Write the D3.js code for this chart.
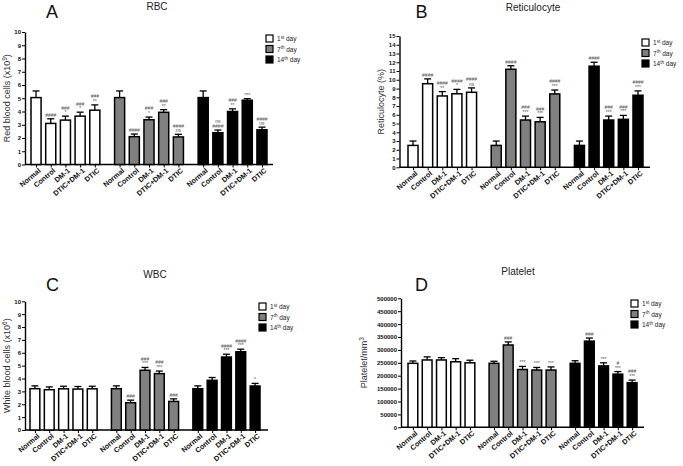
<!DOCTYPE html>
<html><head><meta charset="utf-8">
<script src="https://cdn.jsdelivr.net/npm/d3@7"></script>
<style>
body{margin:0;background:#fff}
svg{display:block}
text{font-family:"Liberation Sans",Arial,Helvetica,sans-serif}
</style>
</head><body>
<svg id="c" width="683" height="466"></svg>
<script>
// ---------------- DATA ----------------
const categories = ["Normal", "Control", "DM-1", "DTIC+DM-1", "DTIC"];
const days = ["1st", "7th", "14th"];
const dayNumber = ["1", "7", "14"];
const daySuffix = ["st", "th", "th"];

// A: RBC (x10^9)
const rbcValues = [[5.05, 3.1, 3.35, 3.65, 4.1], [5.05, 2.1, 3.38, 3.94, 2.08], [5.05, 2.4, 4.0, 4.85, 2.62]];
const rbcErrors = [[0.5, 0.35, 0.3, 0.3, 0.4], [0.5, 0.2, 0.2, 0.2, 0.2], [0.5, 0.2, 0.2, 0.12, 0.2]];
const rbcMarks = [["", "####", "###|*", "###|*", "###|**"], ["", "####", "###|*", "###|**", "####|ns"], ["", "ns|####", "###|**", "***", "####|ns"]];
const rbcTicks = d3.range(0, 11, 1);

// B: Reticulocyte (%)
const retValues = [[2.5, 9.55, 8.15, 8.4, 8.57], [2.5, 11.2, 5.4, 5.2, 8.38], [2.5, 11.55, 5.4, 5.48, 8.23]];
const retErrors = [[0.5, 0.55, 0.5, 0.5, 0.5], [0.5, 0.4, 0.45, 0.5, 0.45], [0.5, 0.45, 0.45, 0.45, 0.5]];
const retMarks = [["", "####", "####|**", "####|*", "####|ns"], ["", "####", "###|***", "###|***", "####|***"], ["", "####", "###|***", "###|***", "####|***"]];
const retTicks = d3.range(0, 16, 1);

// C: WBC (x10^6)
const wbcValues = [[3.21, 3.13, 3.2, 3.18, 3.2], [3.21, 2.12, 4.64, 4.38, 2.22], [3.21, 3.86, 5.67, 6.08, 3.42]];
const wbcErrors = [[0.22, 0.22, 0.2, 0.2, 0.2], [0.22, 0.2, 0.22, 0.2, 0.2], [0.22, 0.22, 0.22, 0.2, 0.2]];
const wbcMarks = [["", "", "", "", ""], ["", "###", "###|***", "###|***", "###"], ["", "", "####|***", "####|***", "*"]];
const wbcTicks = d3.range(0, 11, 1);

// D: Platelet/mm3
const pltValues = [[248000, 261000, 261000, 254000, 250000], [248000, 319000, 224000, 222000, 222000], [248000, 334000, 238000, 206000, 173000]];
const pltErrors = [[9000, 12000, 9000, 12000, 10000], [8000, 12000, 12000, 10000, 12000], [10000, 12000, 12000, 10000, 10000]];
const pltMarks = [["", "", "", "", ""], ["", "###", "***", "***", "***"], ["", "###", "***", "#|***", "###|***"]];
const pltTicks = d3.range(0, 500001, 50000);

// ---------------- LAYOUT ----------------
const dayColors = ["#ffffff", "#808080", "#000000"];
const svg = d3.select("#c");

const panels = [
  {letter: "A", title: "RBC", values: rbcValues, errors: rbcErrors, marks: rbcMarks, ticks: rbcTicks, yMax: 10,
   ylabel: ["Red blood cells (x10", "9", ")"], ylabelX: 10,
   titleX: 157, titleY: 10, letterX: 52, letterY: 18,
   axisX: 25, axisRight: 273, yTop: 32, yBottom: 164.5, barL: 31, barR: 267, legendX: 266, legendY: 35},
  {letter: "B", title: "Reticulocyte", values: retValues, errors: retErrors, marks: retMarks, ticks: retTicks, yMax: 15,
   ylabel: ["Reticulocyte (%)"], ylabelX: 384,
   titleX: 533, titleY: 11, letterX: 421.5, letterY: 18,
   axisX: 399.5, axisRight: 650, yTop: 36, yBottom: 167.3, barL: 408, barR: 643, legendX: 642, legendY: 39},
  {letter: "C", title: "WBC", values: wbcValues, errors: wbcErrors, marks: wbcMarks, ticks: wbcTicks, yMax: 10,
   ylabel: ["White blood cells (x10", "6", ")"], ylabelX: 10,
   titleX: 155, titleY: 278, letterX: 52.5, letterY: 291,
   axisX: 25, axisRight: 268, yTop: 301.3, yBottom: 430, barL: 30, barR: 260, legendX: 259, legendY: 303},
  {letter: "D", title: "Platelet", values: pltValues, errors: pltErrors, marks: pltMarks, ticks: pltTicks, yMax: 500000,
   ylabel: ["Platelet/mm", "3", ""], ylabelX: 367,
   titleX: 518, titleY: 275, letterX: 421.5, letterY: 291,
   axisX: 401, axisRight: 644, yTop: 298.3, yBottom: 427.3, barL: 408, barR: 637, legendX: 631, legendY: 300}
];

function drawPanel(p) {
  const g = svg.append("g");
  const y = d3.scaleLinear().domain([0, p.yMax]).range([p.yBottom, p.yTop]);
  const xOuter = d3.scaleBand().domain(days).range([p.barL, p.barR]).paddingInner(0.176).paddingOuter(0);
  const xInner = d3.scaleBand().domain(categories).range([0, xOuter.bandwidth()]).paddingInner(0.315).paddingOuter(0);
  const bw = xInner.bandwidth();

  // Title and letter
  g.append("text").attr("x", p.titleX).attr("y", p.titleY).attr("text-anchor", "middle")
    .attr("font-size", 10).attr("fill", "#222").text(p.title);
  g.append("text").attr("x", p.letterX).attr("y", p.letterY).attr("text-anchor", "middle")
    .attr("font-size", 18).attr("fill", "#111").text(p.letter);

  // y axis
  const ya = d3.axisLeft(y).tickValues(p.ticks).tickSize(3).tickSizeOuter(0).tickPadding(1).tickFormat(d3.format("d"));
  const yg = g.append("g").attr("transform", `translate(${p.axisX},0)`).call(ya);
  yg.select(".domain").attr("stroke", "#000").attr("stroke-width", 1.4);
  yg.selectAll(".tick line").attr("stroke", "#000").attr("stroke-width", 1);
  yg.selectAll(".tick text").attr("font-size", 6).attr("font-weight", "bold").attr("fill", "#111")
    .attr("font-family", '"Liberation Sans",Arial,sans-serif');

  // y label
  const yl = g.append("text")
    .attr("transform", `translate(${p.ylabelX},${(p.yTop + p.yBottom) / 2}) rotate(-90)`)
    .attr("text-anchor", "middle").attr("font-size", 9).attr("fill", "#333");
  yl.append("tspan").text(p.ylabel[0]);
  if (p.ylabel.length > 1) {
    yl.append("tspan").attr("dy", -3.5).attr("font-size", 6.5).text(p.ylabel[1]);
    yl.append("tspan").attr("dy", 3.5).text(p.ylabel[2]);
  }

  // x axis line
  g.append("line").attr("x1", p.axisX).attr("x2", p.axisRight).attr("y1", p.yBottom).attr("y2", p.yBottom)
    .attr("stroke", "#000").attr("stroke-width", 1.4);

  // x ticks/labels via ordinal scale of bar centers
  const keys = [], centers = [];
  days.forEach(d => categories.forEach(c => { keys.push(d + "|" + c); centers.push(xOuter(d) + xInner(c) + bw / 2); }));
  const xTick = d3.scaleOrdinal().domain(keys).range(centers);
  const xa = d3.axisBottom(xTick).tickSize(3).tickSizeOuter(0).tickFormat(k => k.split("|")[1]);
  const xg = g.append("g").attr("transform", `translate(0,${p.yBottom})`).call(xa);
  xg.select(".domain").remove();
  xg.selectAll(".tick line").attr("stroke", "#000").attr("stroke-width", 1);
  xg.selectAll(".tick text").attr("font-size", 7.2).attr("font-weight", "bold").attr("fill", "#111")
    .attr("font-family", '"Liberation Sans",Arial,sans-serif')
    .attr("text-anchor", "end").attr("x", 0).attr("y", 0).attr("dy", "0.35em")
    .attr("transform", "translate(3,5) rotate(-40)");

  // bars
  days.forEach((d, di) => {
    categories.forEach((c, ci) => {
      const v = p.values[di][ci], e = p.errors[di][ci];
      const x0 = xOuter(d) + xInner(c);
      const cx = x0 + bw / 2;
      // error bar
      g.append("line").attr("x1", cx).attr("x2", cx).attr("y1", y(v)).attr("y2", y(v + e))
        .attr("stroke", "#000").attr("stroke-width", 1.3);
      g.append("line").attr("x1", cx - 3.5).attr("x2", cx + 3.5).attr("y1", y(v + e)).attr("y2", y(v + e))
        .attr("stroke", "#000").attr("stroke-width", 1.3);
      g.append("rect").attr("x", x0).attr("y", y(v)).attr("width", bw).attr("height", y(0) - y(v))
        .attr("fill", dayColors[di]).attr("stroke", "#000").attr("stroke-width", 1.5);
      // significance marks
      const m = p.marks[di][ci];
      if (m) {
        const lines = m.split("|");
        lines.forEach((t, li) => {
          const off = (lines.length - 1 - li) * 4.6;
          g.append("text").attr("x", cx).attr("y", y(v + e) - 2 - off).attr("text-anchor", "middle")
            .attr("font-size", 5).attr("fill", "#555").text(t);
        });
      }
    });
  });

  // legend
  days.forEach((d, di) => {
    const ly = p.legendY + di * 10.5;
    g.append("rect").attr("x", p.legendX).attr("y", ly).attr("width", 7).attr("height", 7)
      .attr("fill", dayColors[di]).attr("stroke", "#000").attr("stroke-width", 1.2);
    const t = g.append("text").attr("x", p.legendX + 11).attr("y", ly + 6.3).attr("font-size", 6.5).attr("fill", "#222");
    t.append("tspan").text(dayNumber[di]);
    t.append("tspan").attr("dy", -2.5).attr("font-size", 4.5).text(daySuffix[di]);
    t.append("tspan").attr("dy", 2.5).text(" day");
  });
}

panels.forEach(drawPanel);
</script>
</body></html>
